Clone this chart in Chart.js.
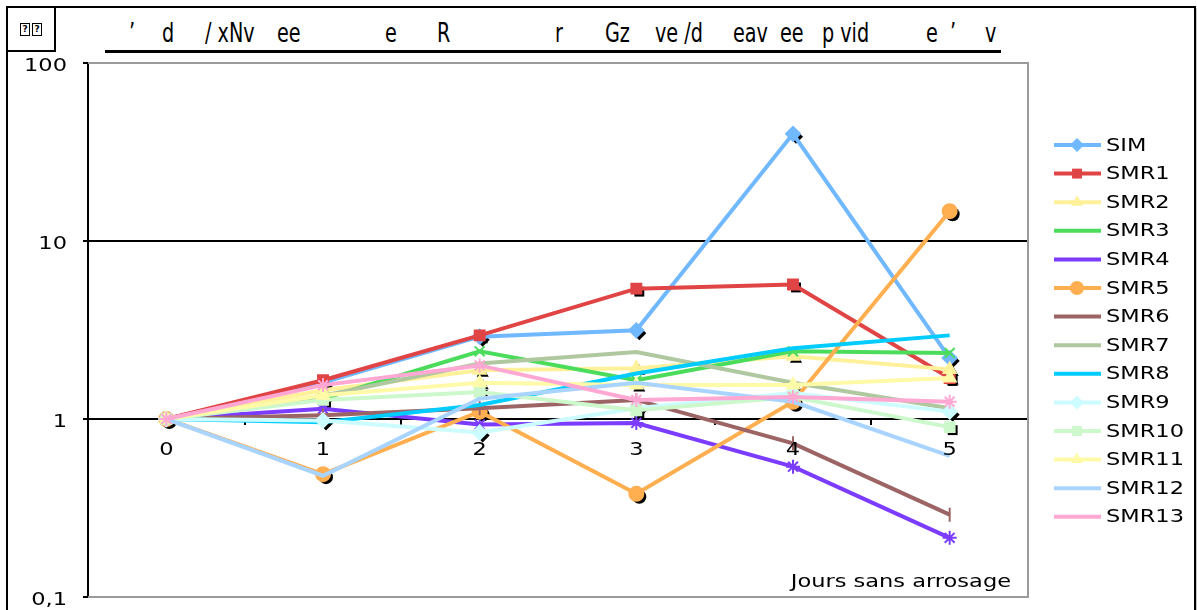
<!DOCTYPE html>
<html lang="fr">
<head>
  <meta charset="UTF-8" />
  <title>Jours sans arrosage</title>
  <script src="https://cdn.jsdelivr.net/npm/chart.js"></script>
  <style>
    html, body { margin: 0; padding: 0; background: #fff; }
    #wrap { position: relative; width: 1197px; height: 610px; overflow: hidden; }
    #frame { position: absolute; left: 6px; top: 6px; width: 1186px; height: 620px;
             border: 2px solid #000; box-shadow: 2px 2px 3px #bbb; }
    #corner { position: absolute; left: 6px; top: 6px; width: 46px; height: 42px;
              border: 2px solid #000; background: #fff; font: bold 9px "DejaVu Sans";
              text-align: center; line-height: 42px; }
    #corner span { display: inline-block; border: 1px solid #000; width: 8px; height: 11px;
                   line-height: 11px; margin: 0 1px; vertical-align: middle; }
    #title { position: absolute; left: 105px; top: 18px; width: 896px; height: 32px;
             border-bottom: 3px solid #000; font: 26px "DejaVu Sans Condensed", "DejaVu Sans"; }
    #title span { position: absolute; top: 0px; white-space: pre;
                  transform: scaleX(0.82); transform-origin: left top; }
    canvas { position: absolute; left: 0; top: 0; }
  </style>
</head>
<body>
<div id="wrap">
  <div id="frame"></div>
  <div id="corner"><span>?</span><span>?</span></div>
  <div id="title"></div>
  <canvas id="chart" width="1197" height="610"></canvas>
</div>
<script>
  // categories and series
  const days = ['0', '1', '2', '3', '4', '5'];
  const seriesNames = ['SIM', 'SMR1', 'SMR2', 'SMR3', 'SMR4', 'SMR5', 'SMR6',
                       'SMR7', 'SMR8', 'SMR9', 'SMR10', 'SMR11', 'SMR12', 'SMR13'];
  const SIM   = [1, 1.6, 2.9, 3.15, 40, 2.2];
  const SMR1  = [1, 1.65, 2.95, 5.4, 5.7, 1.7];
  const SMR2  = [1, 1.45, 1.88, 1.93, 2.25, 1.9];
  const SMR3  = [1, 1.3, 2.4, 1.65, 2.4, 2.35];
  const SMR4  = [1, 1.14, 0.93, 0.95, 0.54, 0.215];
  const SMR5  = [1, 0.49, 1.1, 0.38, 1.25, 14.7];
  const SMR6  = [1, 1.05, 1.15, 1.28, 0.73, 0.29];
  const SMR7  = [1, 1.35, 2.05, 2.38, 1.6, 1.15];
  const SMR8  = [1, 0.96, 1.2, 1.8, 2.5, 2.95];
  const SMR9  = [1, 0.98, 0.84, 1.15, 1.4, 1.1];
  const SMR10 = [1, 1.28, 1.42, 1.12, 1.33, 0.9];
  const SMR11 = [1, 1.36, 1.6, 1.55, 1.55, 1.7];
  const SMR12 = [1, 0.48, 1.3, 1.6, 1.25, 0.62];
  const SMR13 = [1, 1.55, 2.0, 1.28, 1.33, 1.25];
  const allValues = [SIM, SMR1, SMR2, SMR3, SMR4, SMR5, SMR6, SMR7, SMR8, SMR9, SMR10, SMR11, SMR12, SMR13];
  const yTicks = [0.1, 1, 10, 100];
  const yTickLabels = ['0,1', '1', '10', '100'];

  const colors = ['#70b8ff', '#e04444', '#fff19a', '#4cdc5c', '#7b3cff', '#ffae50', '#9c6464',
                  '#b0c8a0', '#00ccff', '#ccfcff', '#ccf8cc', '#fffaa8', '#a8d4ff', '#ffa8d4'];
  const markers = ['rectRot', 'rect', 'triangle', 'crossRot', 'star', 'circle', 'line',
                   false, false, 'rectRot', 'rect', 'triangle', false, 'star'];

  // garbled title, as shown
  const titleBits = [
    [24, '’'], [57, 'd'], [100, '/ xNv'], [172, 'ee'], [280, 'e'], [332, 'R'], [450, 'r'],
    [500, 'Gz'], [550, 've /d'], [628, 'eav'], [675, 'ee'], [717, 'p vid'], [821, 'e'],
    [845, '’'], [880, 'v']
  ];
  const titleEl = document.getElementById('title');
  titleBits.forEach(([x, t]) => {
    const s = document.createElement('span');
    s.style.left = x + 'px';
    s.textContent = t;
    titleEl.appendChild(s);
  });

  const datasets = allValues.map((vals, i) => ({
    label: seriesNames[i],
    data: vals,
    borderColor: colors[i],
    backgroundColor: colors[i],
    pointBackgroundColor: colors[i],
    pointBorderColor: colors[i],
    borderWidth: 4,
    pointStyle: markers[i] || 'circle',
    pointRadius: markers[i] ? 7 : 0,
    pointRotation: markers[i] === 'line' ? 90 : 0,
    pointBorderWidth: 2,
    order: allValues.length - i,
    tension: 0
  }));

  // wide text like the original (Verdana look)
  function wideText(ctx, text, x, y, align) {
    const w = ctx.measureText(text).width * 1.25;
    let left = x;
    if (align === 'right') left = x - w;
    else if (align === 'center') left = x - w / 2;
    ctx.save();
    ctx.translate(left, y);
    ctx.scale(1.25, 1);
    ctx.textAlign = 'left';
    ctx.fillText(text, 0, 0);
    ctx.restore();
  }

  // black marker shadows like the spreadsheet
  const shadowPlugin = {
    id: 'shadows',
    beforeDatasetsDraw(chart) {
      const ctx = chart.ctx;
      ctx.save();
      chart.data.datasets.forEach((ds, i) => {
        if (!markers[i]) return;
        chart.getDatasetMeta(i).data.forEach(pt => {
          ctx.fillStyle = '#000';
          ctx.strokeStyle = '#000';
          ctx.lineWidth = 3;
          Chart.helpers.drawPoint(ctx, { pointStyle: ds.pointStyle, radius: 7, rotation: ds.pointRotation },
            pt.x + 3, pt.y + 3);
        });
      });
      ctx.restore();
    }
  };

  // grey plot border, tick labels, axis title and legend
  const decorPlugin = {
    id: 'decor',
    afterDraw(chart) {
      const ctx = chart.ctx;
      const a = chart.chartArea;
      const xs = chart.scales.x, ys = chart.scales.y;
      ctx.save();
      ctx.strokeStyle = '#9a9a9a';
      ctx.lineWidth = 2;
      ctx.beginPath();
      ctx.moveTo(a.left, a.top);
      ctx.lineTo(a.right, a.top);
      ctx.lineTo(a.right, a.bottom);
      ctx.lineTo(a.left, a.bottom);
      ctx.stroke();

      ctx.fillStyle = '#000';
      ctx.font = '18px "DejaVu Sans"';
      ctx.textBaseline = 'middle';
      yTicks.forEach((v, k) => wideText(ctx, yTickLabels[k], 67, ys.getPixelForValue(v) + 3, 'right'));
      const axisY = ys.getPixelForValue(1);
      days.forEach((d, k) => wideText(ctx, d, xs.getPixelForValue(k), axisY + 31, 'center'));

      ctx.textBaseline = 'alphabetic';
      wideText(ctx, 'Jours sans arrosage', a.right - 17, a.bottom - 10, 'right');

      // legend
      ctx.textBaseline = 'middle';
      chart.data.datasets.forEach((ds, i) => {
        const y = 145 + i * 28.6;
        ctx.strokeStyle = ds.borderColor;
        ctx.lineWidth = 4;
        ctx.beginPath();
        ctx.moveTo(1054, y);
        ctx.lineTo(1101, y);
        ctx.stroke();
        if (markers[i]) {
          ctx.fillStyle = ds.borderColor;
          ctx.lineWidth = 2;
          Chart.helpers.drawPoint(ctx, { pointStyle: ds.pointStyle, radius: 7, rotation: ds.pointRotation }, 1077, y);
        }
        ctx.fillStyle = '#000';
        wideText(ctx, ds.label, 1106, y + 1, 'left');
      });
      ctx.restore();
    }
  };

  new Chart(document.getElementById('chart'), {
    type: 'line',
    data: { labels: days, datasets },
    options: {
      responsive: false,
      animation: false,
      layout: { padding: { left: 0, top: 63, right: 169, bottom: 13 } },
      plugins: { legend: { display: false }, tooltip: { enabled: false } },
      scales: {
        x: {
          type: 'category',
          offset: true,
          position: { y: 1 },
          afterFit: s => { s.height = 0; },
          border: { color: '#000', width: 2 },
          grid: { drawOnChartArea: false, drawTicks: true, tickLength: 5, tickColor: '#000', lineWidth: 2, offset: true },
          ticks: { display: false }
        },
        y: {
          type: 'logarithmic',
          min: 0.1,
          max: 100,
          afterBuildTicks: s => { s.ticks = yTicks.map(v => ({ value: v })); },
          afterFit: s => { s.width = 88; },
          border: { color: '#000', width: 2 },
          grid: {
            color: c => (c.tick && (c.tick.value === 1 || c.tick.value === 10)) ? '#000' : 'rgba(0,0,0,0)',
            tickColor: '#000',
            lineWidth: 2,
            tickLength: 5
          },
          ticks: { display: false }
        }
      }
    },
    plugins: [shadowPlugin, decorPlugin]
  });
</script>
</body>
</html>
